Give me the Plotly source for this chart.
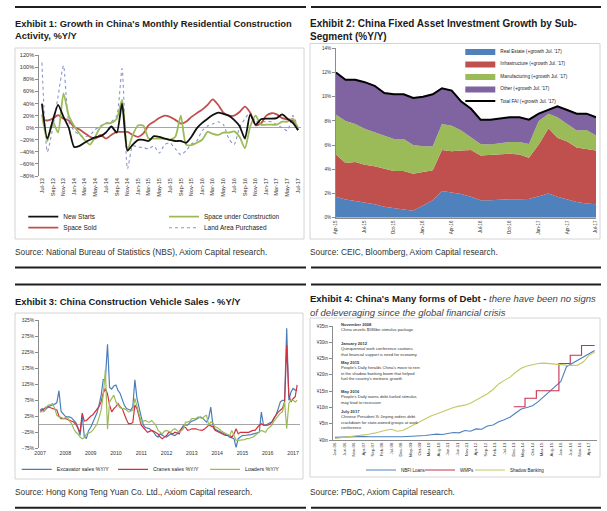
import pandas as pd
import plotly.graph_objects as go

W, H = 607, 511
FONT = "Liberation Sans, Arial, sans-serif"

# ---------------- Exhibit 1: monthly, Jul-13 .. Jul-17 (%Y/Y) ----------------
ex1_months = pd.date_range("2013-07-01", "2017-07-01", freq="MS")
new_starts = [40, -18, 12, 38, 18, 0, -32, -30, -25, -20, -16, -14, -8, 2, -8, 40, -38,
              -28, -20, -20, -22, -14, -15, -18, -20, -22, -22, -25, -15, -1, 8, 15, 21,
              25, 23, 20, 13, 3, -18, 22, 5, 14, 15, 15, 16, 22, 15, 8, -4]
space_under_construction = [22, -22, 10, -8, 57, 20, 3, -10, -20, -28, -15, 2, 7, 8, 15,
                            46, -37, -12, 4, 3, -18, -18, -18, -18, -20, -15, 20, -28, -29,
                            -25, -20, -7, -10, -12, -8, -8, -6, -15, -34, 2, 20, 5, 5, 5,
                            5, 10, 10, 15, -2]
space_sold = [13, 12, 15, 21, 15, 12, 1, -3, -9, -15, -18, -12, -18, -12, -7, -7, -7, -12,
              -15, -9, 4, 10, 16, 20, 18, 13, 7, 10, 18, 24, 30, 38, 47, 38, 25, 20, 20, 26,
              35, 25, 4, 7, 20, 24, 22, 16, 14, 12, -4]
land_area_purchased = [108, -40, 0, 52, 103, 10, -5, -12, -15, -12, -3, 3, 8, 10, 20, 98,
                       -68, -30, -32, -33, -35, -30, -42, -28, -25, -35, -45, -38, -27, -22,
                       -5, 3, 6, 10, 5, -18, -28, 0, 15, 25, 10, 10, 10, 10, 5, 0, -5, 20, 0]

# ---------------- Exhibit 2: monthly, Apr-15 .. Jul-17 (% contribution) ----------------
ex2_months = pd.date_range("2015-04-01", "2017-07-01", freq="MS")
real_estate = [1.73, 1.50, 1.37, 1.23, 1.12, 0.90, 0.77, 0.68, 0.57, 1.04, 1.45, 2.20, 2.10,
               1.95, 1.73, 1.45, 1.45, 1.50, 1.53, 1.53, 1.55, 1.78, 2.00, 1.73, 1.50, 1.30,
               1.18, 1.12]
infrastructure = [3.50, 3.02, 3.23, 3.15, 3.13, 3.15, 3.09, 3.18, 3.07, 2.74, 2.47, 3.40, 3.40,
                  3.61, 3.87, 3.70, 3.73, 3.73, 3.76, 3.70, 3.41, 4.27, 5.40, 4.87, 4.80, 4.50,
                  4.52, 4.44]
manufacturing = [3.27, 3.48, 3.15, 2.97, 2.82, 2.75, 2.64, 2.64, 2.36, 2.12, 1.98, 2.15, 2.10,
                 1.64, 1.05, 0.95, 0.87, 0.92, 0.96, 1.02, 1.14, 1.95, 1.20, 1.70, 1.45, 1.40,
                 1.55, 1.24]
other = [3.50, 3.40, 3.65, 3.85, 3.83, 3.50, 3.70, 3.70, 3.90, 4.10, 4.30, 2.95, 2.90, 2.40,
         2.35, 2.00, 2.05, 2.05, 2.05, 2.05, 2.00, 0.60, 0.30, 0.90, 1.15, 1.40, 1.35, 1.50]
total_fai = [12.0, 11.4, 11.4, 11.2, 10.9, 10.3, 10.2, 10.2, 9.9, 10.0, 10.2, 10.7, 10.5, 9.6,
             9.0, 8.1, 8.1, 8.2, 8.3, 8.3, 8.1, 8.6, 8.9, 9.2, 8.9, 8.6, 8.6, 8.3]

# ---------------- Exhibit 3: monthly, Jan-07 .. Mar-17 (%Y/Y) ----------------
ex3_months = pd.date_range("2007-01-01", "2017-03-01", freq="MS")
excavator = [44, 49, 42, 50, 55, 58, 60, 63, 68, 105, 40, 33,
             25, 23, 23, 20, 12, 5, -10, -35, 30, -40, -43, -20,
             -10, 5, 15, 35, 60, 90, 140, 140, 250, 115, 110, 120,
             123, 105, 97, 75, 60, 49, 47, 44, 55, 139, 80, 49,
             23, -3, -10, -12, -14, -20, -25, -35, -40, -30, -35, -38,
             -40, -35, -30, -33, -35, -30, -22, -15, -3, -3, -3, 5,
             10, 12, 15, 20, 23, 20, 15, 7, 20, 54, -3, -15,
             -19, -22, -25, -30, -32, -35, -40, -43, -45, -72, -45, -40,
             -35, -35, -35, -33, -32, -30, -30, -28, -25, 38, -3, -3,
             2, 5, 7, 20, 30, 49, 70, 75, 75, 300, 75, 100,
             112, 107, 107]
cranes = [39, 45, 50, 54, 54, 52, 50, 49, 45, 25, 18, 18,
          18, 15, 12, 10, 7, 0, -15, -25, 35, 10, 12, 20,
          25, 30, 38, 44, 55, 70, 97, 112, 95, 60, 39, 49,
          55, 65, 55, 49, 30, 15, 2, 2, 5, 60, 49, 20,
          -3, -10, -19, -25, -22, -19, -22, -25, -30, -40, -45, -40,
          -35, -25, -28, -30, -25, -28, -30, -14, -8, -10, -19, -17,
          -14, -14, -14, -17, -19, -19, -15, -8, -3, -5, -8, -19,
          -22, -25, -30, -32, -35, -35, -35, -40, -30, -14, -30, -25,
          -25, -25, -25, -25, -22, -19, -19, -10, -3, 2, -3, -3,
          -3, 0, 7, 20, 30, 39, 44, 50, 70, 247, 91, 70,
          80, 86, 123]
loaders = [39, 39, 40, 54, 60, 62, 65, 50, 28, 23, 22, 18,
           20, 23, 10, 2, -14, -25, -30, -40, -45, -42, -30, -27,
           -25, -18, -10, 0, 20, 45, 91, 170, -15, 70, 81, 91,
           70, 60, 52, 49, 49, 45, 39, 40, 44, 81, 55, 30,
           7, 10, 12, 8, 7, 12, 5, -3, -19, -25, -30, -22,
           -19, -22, -25, -17, -14, -19, -25, -20, -14, 7, 7, 10,
           18, 18, 18, 23, 20, 18, 25, 28, -3, 7, 5, -8,
           -10, -14, -20, -25, -28, -30, -35, -19, -35, -50, -50, -50,
           -50, -48, -45, -45, -42, -40, -35, -30, -25, -19, -22, -25,
           -14, -8, -3, 10, 18, 28, 35, 39, 70, -14, 65, 75,
           75, 70, 75]

# ---------------- Exhibit 4: quarterly, Jan-06 .. Jul-17 (RMB tn) ----------------
ex4_quarters = pd.date_range("2006-01-01", periods=47, freq="3MS")
nbfi_loans = [0.8, 0.9, 1.0, 1.0, 1.0, 1.1, 1.0, 1.1, 1.0, 1.0, 1.1, 1.0, 1.0, 1.1, 1.0, 1.2,
              1.4, 1.6, 1.8, 1.7, 2.1, 2.3, 2.2, 2.9, 2.7, 3.4, 3.3, 4.3, 4.6, 5.6, 6.2, 7.0,
              8.3, 9.5, 10.0, 10.5, 11.8, 13.3, 15.0, 16.4, 18.0, 22.5, 23.5, 24.5, 25.5,
              26.5, 27.5]
shadow_banking = [0.5, 0.7, 0.8, 1.0, 1.2, 1.5, 1.75, 2.1, 2.6, 3.0, 3.3, 2.7, 2.9, 3.8, 4.8,
                  5.8, 6.6, 7.4, 8.0, 8.7, 9.3, 10.0, 10.4, 10.7, 11.3, 12.3, 13.2, 14.2, 15.5,
                  17.2, 18.3, 19.3, 20.8, 22.0, 22.7, 23.1, 23.5, 23.6, 23.4, 23.2, 23.0, 23.0,
                  22.9, 23.0, 24.0, 26.0, 27.0]
wmp_dates = ["2013-12-01", "2014-06-01", "2014-12-01", "2015-12-01", "2016-06-01",
             "2016-12-01", "2017-07-01"]
wmps = [10.2, 12.8, 15.1, 23.5, 26.0, 29.0, 29.0]

event_dates = ["November 2008", "January 2012", "May 2015", "May 2016", "July 2017"]
event_texts = [
    ["China unveils $586bn stimulus package"],
    ["Quinquennial work conference cautions", "that financial support is need for economy"],
    ["People's Daily heralds China's move to rein", "in the shadow banking boom that helped",
     "fuel the country's meteoric growth"],
    ["People's Daily warns debt-fueled stimulus", "may lead to recession"],
    ["Chinese President Xi Jinping orders debt", "crackdown for state-owned groups at work",
     "conference"],
]

# ---------------- helpers (pixel -> paper) ----------------
def PX(x):
    return x / W


def PY(y):
    return 1 - y / H


def dom_x(a, b):
    return [PX(a), PX(b)]


def dom_y(top, bottom):
    return [PY(bottom), PY(top)]


fig = go.Figure()

RED = "#c0504d"
GREEN = "#9bbb59"
BLUE = "#4f81bd"
PURPLE = "#8064a2"

# Exhibit 1 traces
ex1_spec = [
    ("New Starts", new_starts, dict(color="#111111", width=1.8), "legend"),
    ("Space under Construction", space_under_construction, dict(color=GREEN, width=1.8), "legend2"),
    ("Space Sold", space_sold, dict(color=RED, width=1.8), "legend3"),
    ("Land Area Purchased", land_area_purchased, dict(color="#8a96c8", width=1.1, dash="dot"), "legend4"),
]
for name, vals, line, lg in reversed(ex1_spec):
    fig.add_trace(go.Scatter(x=ex1_months, y=vals, name=name, mode="lines",
                             line=dict(shape="spline", smoothing=0.6, **line),
                             xaxis="x", yaxis="y", legend=lg))

# Exhibit 2 traces
ex2_spec = [
    ("Real Estate (+growth Jul. '17)", real_estate, BLUE, "legend5"),
    ("Infrastructure (+growth Jul. '17)", infrastructure, RED, "legend6"),
    ("Manufacturing (+growth Jul. '17)", manufacturing, GREEN, "legend7"),
    ("Other (+growth Jul. '17)", other, PURPLE, "legend8"),
]
for name, vals, col, lg in ex2_spec:
    fig.add_trace(go.Scatter(x=ex2_months, y=vals, name=name, mode="lines",
                             stackgroup="fai", fillcolor=col, line=dict(width=0, color=col),
                             xaxis="x2", yaxis="y2", legend=lg))
fig.add_trace(go.Scatter(x=ex2_months, y=total_fai, name="Total FAI (+growth Jul. '17)",
                         mode="lines", line=dict(color="#000000", width=2),
                         xaxis="x2", yaxis="y2", legend="legend9"))

# Exhibit 3 traces
ex3_spec = [
    ("Excavator sales %Y/Y", excavator, "#4a7ebb", "legend10"),
    ("Cranes sales %Y/Y", cranes, "#d0313f", "legend11"),
    ("Loaders %Y/Y", loaders, "#9bbb59", "legend12"),
]
for name, vals, col, lg in ex3_spec:
    fig.add_trace(go.Scatter(x=ex3_months, y=vals, name=name, mode="lines",
                             line=dict(color=col, width=1.2),
                             xaxis="x3", yaxis="y3", legend=lg))

# Exhibit 4 traces
ex4_spec = [
    ("NBFI Loans", ex4_quarters, nbfi_loans, dict(color="#4f81bd", width=1.1), "legend13"),
    ("WMPs", wmp_dates, wmps, dict(color="#c9304e", width=1.1, shape="hv"), "legend14"),
    ("Shadow Banking", ex4_quarters, shadow_banking, dict(color="#c3c865", width=1.1), "legend15"),
]
for name, xs, vals, line, lg in ex4_spec:
    fig.add_trace(go.Scatter(x=xs, y=vals, name=name, mode="lines", line=line,
                             xaxis="x4", yaxis="y4", legend=lg))

AX_COL = "#8c8c8c"
TICK_COL = "#333333"


def yax(domain, rng, dtick, size, anchor, tick0=None, suffix="", prefix="", zeroline=False):
    d = dict(domain=domain, range=rng, dtick=dtick, showgrid=False, showline=True,
             linecolor=AX_COL, linewidth=1, ticks="outside", ticklen=3, tickcolor=AX_COL,
             ticksuffix=suffix, tickprefix=prefix, zeroline=zeroline, zerolinecolor="#a6a6a6",
             zerolinewidth=1, tickfont=dict(size=size, color=TICK_COL, family=FONT),
             fixedrange=True, anchor=anchor, automargin=False, autorange=False)
    if tick0 is not None:
        d["tick0"] = tick0
    return d


def xax(domain, rng, dtick, tick0, fmt, angle, size, showline, anchor):
    return dict(domain=domain, range=rng, type="date", dtick=dtick, tick0=tick0,
                tickformat=fmt, tickangle=angle, showgrid=False, showline=showline,
                linecolor=AX_COL, linewidth=1, ticks="", zeroline=False, anchor=anchor,
                tickfont=dict(size=size, color=TICK_COL, family=FONT), fixedrange=True,
                automargin=False, autorange=False)


layout = dict(
    width=W, height=H, autosize=False,
    margin=dict(l=0, r=0, t=0, b=0, pad=0),
    paper_bgcolor="white", plot_bgcolor="rgba(0,0,0,0)",
    font=dict(family=FONT, color="#222222"),
    xaxis=xax(dom_x(39.3, 300.7), ["2013-06-16", "2017-07-16"], "M2", "2013-07-01",
              "%b-%y", -90, 5.6, False, "y"),
    yaxis=yax(dom_y(55.3, 176), [-80, 120], 20, 5.6, "x", suffix="%", zeroline=True),
    xaxis2=xax(dom_x(336, 596.3), ["2015-04-01", "2017-07-02"], "M3", "2015-04-01",
               "%b-%y", -90, 4.6, True, "y2"),
    yaxis2=yax(dom_y(48.3, 217.7), [0, 14], 2, 4.6, "x2", suffix="%"),
    xaxis3=xax(dom_x(39, 300), ["2006-12-17", "2017-04-11"], "M12", "2007-01-01",
               "%Y", 0, 5.2, False, "y3"),
    yaxis3=yax(dom_y(320.3, 448.3), [-75, 325], 50, 4.8, "x3", tick0=-75, suffix="%",
               zeroline=True),
    xaxis4=xax(dom_x(333, 597), ["2005-11-30", "2017-08-08"], "M5", "2006-01-01",
               "%b-%y", -90, 4.3, True, "y4"),
    yaxis4=yax(dom_y(326, 440), [0, 35], 5, 4.5, "x4", prefix="¥", suffix="tn"),
    showlegend=True,
)


def legend_at(text_x, y, size):
    return dict(x=PX(text_x - 40), y=PY(y), xanchor="left", yanchor="middle",
                orientation="v", bgcolor="rgba(0,0,0,0)", borderwidth=0,
                font=dict(size=size, color="#222222", family=FONT), itemwidth=30,
                tracegroupgap=0)


layout["legend"] = legend_at(63.3, 216.7, 6.5)
layout["legend2"] = legend_at(204, 216.7, 6.5)
layout["legend3"] = legend_at(63.3, 227.7, 6.5)
layout["legend4"] = legend_at(204, 227.7, 6.5)
for i, yy in enumerate([51, 63.5, 76, 88.5, 101]):
    layout["legend%d" % (i + 5)] = legend_at(500.3, yy, 4.7)
layout["legend10"] = legend_at(56.7, 469.3, 5.3)
layout["legend11"] = legend_at(153, 469.3, 5.3)
layout["legend12"] = legend_at(245, 469.3, 5.3)
layout["legend13"] = legend_at(401, 470, 4.5)
layout["legend14"] = legend_at(460, 470, 4.5)
layout["legend15"] = legend_at(510, 470, 4.5)

# ---------------- text ----------------
ann = []


def text(x, y, s, size, color="#1a1a1a", yanchor="middle"):
    ann.append(dict(x=PX(x), y=PY(y), xref="paper", yref="paper", text=s, showarrow=False,
                    xanchor="left", yanchor=yanchor, align="left", borderpad=0,
                    font=dict(size=size, color=color, family=FONT)))


text(14, 23.3, "<b>Exhibit 1: Growth in China's Monthly Residential Construction</b>", 9.4)
text(14, 35, "<b>Activity, %Y/Y</b>", 9.4)
text(309, 23.3, "<b>Exhibit 2: China Fixed Asset Investment Growth by Sub-</b>", 10.0)
text(309, 36, "<b>Segment (%Y/Y)</b>", 10.0)
text(14, 301.7, "<b>Exhibit 3: China Construction Vehicle Sales - %Y/Y</b>", 9.4)
text(309, 298.5, "<b>Exhibit 4: China's Many forms of Debt - </b>"
     "<i><span style='color:#444444'>there have been no signs</span></i>", 9.5)
text(309, 312.5, "<i><span style='color:#444444'>of deleveraging since the global financial "
     "crisis</span></i>", 9.5)

SS = 8.3
SC = "#333333"
text(14, 252, "Source: National Bureau of Statistics (NBS), Axiom Capital research.", SS, SC)
text(309, 252, "Source: CEIC, Bloomberg, Axiom Capital research.", SS, SC)
text(14, 491.5, "Source: Hong Kong Teng Yuan Co. Ltd., Axiom Capital research.", SS, SC)
text(309, 491.5, "Source: PBoC, Axiom Capital research.", SS, SC)

event_y = [320.5, 339.5, 358.8, 387.5, 407.5]
for d, lines, yy in zip(event_dates, event_texts, event_y):
    text(340, yy, "<b>" + d + "</b><br>" + "<br>".join(lines), 4.1, "#333333", yanchor="top")

layout["annotations"] = ann

# ---------------- frames and rules ----------------
shapes = []


def rect(x0, y0, x1, y1):
    shapes.append(dict(type="rect", xref="paper", yref="paper", x0=PX(x0), x1=PX(x1),
                       y0=PY(y1), y1=PY(y0), line=dict(color="#d4d4d4", width=1),
                       fillcolor="rgba(0,0,0,0)", layer="below"))


def rule(x0, x1, y):
    shapes.append(dict(type="line", xref="paper", yref="paper", x0=PX(x0), x1=PX(x1),
                       y0=PY(y), y1=PY(y), line=dict(color="#1f1f1f", width=2)))


rect(15, 48, 304, 239)
rect(310, 43.5, 600, 239)
rect(15, 313, 303, 479)
rect(310, 318, 600, 477)
for y in (7, 267.5, 284.5, 507.7):
    rule(15, 306, y)
    rule(311, 601, y)
layout["shapes"] = shapes

fig.update_layout(**layout)
fig.write_html("out.html", config={"displayModeBar": False},
               post_script="document.body.style.margin='0';document.body.style.padding='0';")
